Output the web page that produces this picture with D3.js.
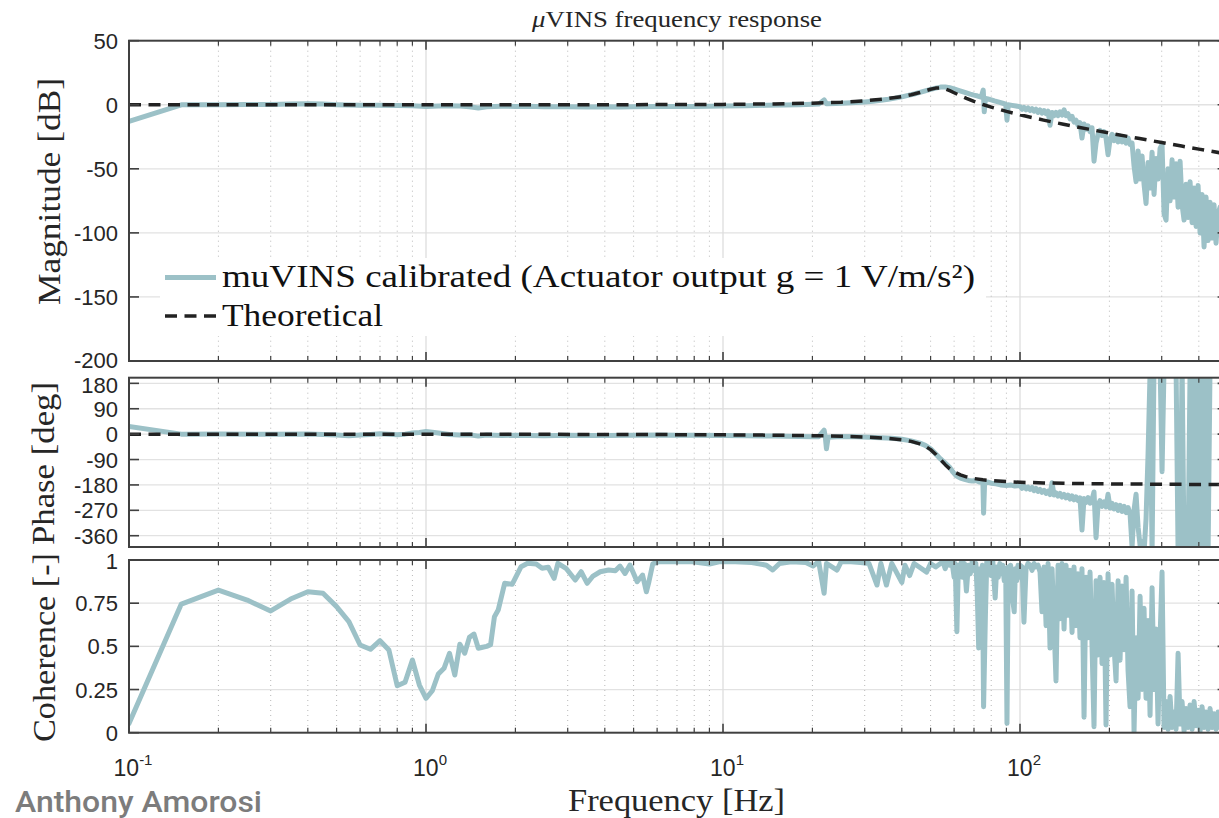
<!DOCTYPE html>
<html>
<head>
<meta charset="utf-8">
<script src="https://cdn.jsdelivr.net/npm/d3@7"></script>
<style>
  html, body { margin: 0; padding: 0; background: #fff; }
  svg { display: block; }
</style>
</head>
<body>
<svg id="chart" width="1219" height="818"></svg>
<script>
// ---------- measured response: low / mid band, irregular frequency steps ----------
const magLoHz = [0.1,0.15,0.2,0.25,0.3,0.35,0.4,0.45,0.5,0.55,0.6,0.7,0.8,0.9,1.0,1.1,1.2,1.3,1.4,1.5,
  1.6,1.8,2.0,2.2,2.5,3,3.5,4,4.5,5,6,7,8,9,10,12,14,16,18,20,
  21,21.9,22.3,24,26,28,30,32,34,36,38,40,42,44,46,48,50,52,54,56,
  58,60,62,64,66,68,70,72,74,75.2,75.8,76.5,78,80,82,85,88,89.5,90.4,91.3,94,97];
const magLoDb = [-13,0,0,0.2,0.3,0.5,0.8,0.5,0.1,-0.2,-0.3,-0.4,-0.6,-0.8,-1.4,-0.9,-0.7,-1.0,-1.6,-2.6,
  -1.6,-1.2,-1.3,-1.2,-1.5,-1.6,-1.7,-1.5,-1.7,-1.6,-1.4,-1.3,-1.3,-1.1,-1.0,-0.8,-0.4,-0.2,0.1,0.4,
  0.5,3.8,0.8,1.0,1.3,1.7,2.2,2.8,3.5,4.3,5.2,6.2,7.3,8.4,9.6,10.8,12.0,13.0,13.8,13.9,
  13.3,12.4,11.3,10.2,9.2,8.3,7.5,6.8,6.0,11.5,-5.5,5.0,4.5,3.8,3.0,2.0,1.0,0.5,-12,0.0,-0.5,-1.0];

const phaseLoHz = [0.1,0.15,0.2,0.3,0.4,0.45,0.5,0.55,0.6,0.65,0.7,0.75,0.8,0.85,0.9,0.95,1.0,1.05,1.1,1.2,
  1.3,1.4,1.5,1.6,1.7,1.8,2,2.5,3,3.5,4,5,6,7,8,10,12,15,18,20,
  21,21.9,22.1,22.3,22.6,25,28,31,34,37,40,43,46,48,50,52,54,56,58,59.5,
  61,63,65,67,69,71,73,75,75.4,76,78,80,83,86,90,93,96,98];
const phaseLoDeg = [27,0,0.5,-0.5,0.5,-1,-3,-6,-3,-1,1,0,-2,0,4,6,9,7,4,-1,
  -3,-2,-7,-3,-4,-5,-4,-6,-4,-5,-5,-4,-3,-4,-4,-5,-6,-7,-8,-9,
  -9,14,-10,-52,-11,-8,-9,-11,-13,-15,-18,-24,-32,-40,-52,-70,-88,-103,-118,-135,
  -148,-156,-160,-164,-166,-164,-170,-172,-280,-175,-170,-174,-176,-180,-182,-180,-184,-183];

const cohLoHz = [0.1,0.15,0.2,0.25,0.3,0.35,0.4,0.45,0.5,0.55,0.6,0.65,0.7,0.75,0.8,0.85,0.9,0.95,1.0,1.05,
  1.1,1.15,1.2,1.25,1.3,1.35,1.4,1.45,1.5,1.55,1.6,1.65,1.7,1.75,
  1.84,1.95,2.09,2.2,2.35,2.46,2.58,2.7,2.78,2.96,3.18,3.33,3.49,3.65,3.86,4.12,4.34,4.5,4.68,4.86,
  5.14,5.36,5.52,5.63,5.8,6.1,7.0,7.9,9.0,9.7,11,12.5,14.0,14.7,15.5,17,19,20.1,21,21.9,
  22.3,24.2,25,27,29,31,33,34,35.5,37,40,41,42.5,44,48.5,50,52,55,56,57,
  58,59,60,60.5,61.3,62,62.5,63.5,64,65,66,67,68,69,70,71,71.8,72.6,73.3,74,
  74.7,75.4,76.5,77.3,78,79,80,81,82.5,83.5,84.5,85.5,86.5,87.5,88.5,89.5,90.4,91.3,92,93,
  94,95.6,96.5,97.5,98.5,99.3];
const cohLoVal = [0.054,0.745,0.826,0.768,0.705,0.774,0.816,0.807,0.73,0.643,0.508,0.483,0.533,0.479,0.272,0.292,0.421,0.276,0.199,0.243,
  0.34,0.373,0.46,0.334,0.512,0.46,0.552,0.571,0.489,0.495,0.50,0.51,0.672,0.71,
  0.865,0.859,0.961,0.981,0.977,0.952,0.958,0.894,0.981,0.952,0.884,0.932,0.865,0.907,0.932,0.942,0.938,0.965,0.922,0.971,
  0.874,0.913,0.816,0.874,0.977,0.99,0.99,0.99,0.977,0.99,0.99,0.985,0.97,0.942,0.98,0.99,0.985,0.965,0.99,0.807,
  0.98,0.942,0.99,0.99,0.985,0.98,0.855,0.98,0.855,0.98,0.87,0.97,0.91,0.98,0.93,0.98,0.96,0.99,0.95,0.99,
  0.97,0.99,0.9,0.98,0.585,0.97,0.93,0.99,0.90,0.98,0.82,0.97,0.92,0.99,0.94,0.98,0.80,0.49,0.95,0.88,
  0.97,0.15,0.69,0.99,0.93,0.98,0.91,0.99,0.78,0.96,0.90,0.98,0.92,0.97,0.88,0.95,0.054,0.96,0.86,0.97,
  0.80,0.7,0.95,0.88,0.97,0.90];

// ---------- measured response: 100-500 Hz, shared frequency grid ----------
const hfHz = [100,101.6,103.1,104.8,106.4,108.1,109.8,111.5,113.2,115.0,
  116.8,118.6,120.5,122.4,124.3,126.2,128.2,130.2,132.2,134.3,
  136.4,138.5,140.7,142.9,145.1,147.4,149.7,152.0,154.4,156.8,
  159.2,161.7,164.3,166.8,169.4,172.1,174.8,177.5,180.3,183.1,
  186.0,188.9,191.8,194.8,197.9,201.0,204.1,207.3,210.6,213.9,
  217.2,220.6,224.1,227.6,231.1,234.7,238.4,242.1,245.9,249.8,
  253.7,257.6,261.6,265.7,269.9,274.1,278.4,282.7,287.1,291.6,
  296.2,300.8,305.5,310.3,315.1,320.1,325.1,330.2,335.3,340.6,
  345.9,351.3,356.8,362.4,368.0,373.8,379.7,385.6,391.6,397.7,
  403.9,410.2,416.6,423.1,429.7,436.4,443.2,450.1,457.1,464.3,
  471.6,479.0,486.5,494.1,500];
const magHfDb = [-1.5,-3.5,-2,-4,-2.5,-4.5,-3,-5,-3.5,-6,
  -4,-6.5,-4.5,-7,-5,-16,-6,-8.5,-6,-8.5,
  -5.5,-8,-4,-8.5,-7,-11,-9,-13.5,-12,-16,
  -14,-26,-15,-19,-16.5,-21,-18,-44,-30,-23,
  -20,-24,-21,-26,-39,-27,-23,-28,-24,-29,
  -24.5,-29,-25,-30,-26,-31,-30,-48,-60,-36,
  -58,-40,-62,-77,-45,-65,-37,-70,-42,-58,
  -34,-31,-85,-90,-50,-75,-43,-72,-46,-80,
  -44,-78,-90,-62,-88,-60,-92,-65,-95,-63,
  -100,-70,-111,-72,-106,-76,-104,-78,-108,-85,
  -80,-110,-75,-105,-90];
const phaseHfDeg = [-182,-192,-184,-194,-188,-196,-189,-200,-192,-203,
  -196,-206,-199,-210,-202,-214,-172,-216,-208,-220,
  -210,-223,-214,-226,-216,-230,-219,-233,-222,-236,
  -226,-340,-228,-242,-225,-245,-232,-205,-367,-250,
  -236,-256,-240,-258,-213,-262,-245,-265,-250,-270,
  -252,-274,-256,-278,-260,-282,-400,-268,-213,-330,
  -395,-380,-420,-300,-68,220,-420,260,240,270,
  250,-133,240,260,230,280,250,270,240,-420,
  -430,250,-420,-440,-430,230,-420,250,-430,240,
  -410,260,-430,240,-440,250,300,320,310,330,
  320,340,330,350,340];
const cohHfVal = [0.97,0.96,0.64,0.95,0.98,0.97,0.94,0.98,0.96,0.97,
  0.93,0.70,0.96,0.62,0.98,0.49,0.95,0.62,0.30,0.97,
  0.66,0.98,0.60,0.97,0.68,0.94,0.58,0.96,0.62,0.92,
  0.55,0.95,0.09,0.90,0.55,0.93,0.50,0.035,0.88,0.45,
  0.90,0.40,0.87,0.045,0.92,0.45,0.86,0.50,0.30,0.88,
  0.42,0.85,0.48,0.90,0.36,0.15,0.82,0.006,0.55,0.20,
  0.79,0.25,0.72,0.20,0.65,0.10,0.84,0.25,0.60,0.05,
  0.55,0.93,0.03,0.18,0.02,0.21,0.03,0.12,0.02,0.46,
  0.05,0.18,0.01,0.14,0.03,0.16,0.02,0.18,0.04,0.13,
  0.01,0.15,0.03,0.12,0.02,0.14,0.03,0.11,0.02,0.12,
  0.03,0.13,0.02,0.10,0.05];

// ---------- theoretical second-order response ----------
const thHz  = [0.1,1,5,10,15,20,25,30,35,40,43,46,48,50,52,54,56,58,60,63,66,70,75,80,90,100,120,140,170,200,250,300,350,400,500];
const thDb  = [0,0,0.07,0.3,0.68,1.24,2.02,3.07,4.48,6.38,7.84,9.57,10.85,12.09,12.99,13.15,12.38,11.0,9.4,7.07,5.0,2.64,0.19,-1.86,-5.18,-7.83,-11.97,-15.19,-19.02,-22.1,-26.21,-29.5,-32.26,-34.63,-38.5];
const thDeg = [0,-0.2,-1.2,-2.4,-3.8,-5.4,-7.4,-10,-13.8,-19.9,-25.6,-34.3,-43,-55,-71.1,-90,-108.3,-123,-133.8,-144.6,-151.4,-157.3,-161.8,-164.7,-168.3,-170.5,-172.9,-174.3,-175.6,-176.3,-177,-177.7,-178,-178.3,-178.6];

// ---------- axis ticks ----------
const magTicks = [50,0,-50,-100,-150,-200];
const phaseTicks = [180,90,0,-90,-180,-270,-360];
const cohTicks = [0,0.25,0.5,0.75,1];
const decadeTicks = [0.1,1,10,100];
const decadeLabels = [["10","-1"],["10","0"],["10","1"],["10","2"]];

// ---------- styling ----------
const TEAL = "#9cc1c7";
const DARK = "#222222";
const AXIS = "#404040";
const TICK_FONT = "'Liberation Sans', Arial, Helvetica, sans-serif";
const SERIF = "'Liberation Serif', 'Times New Roman', serif";

const svg = d3.select("#chart");
const X0 = 129, X1 = 1227.6;
const x = d3.scaleLog().domain([0.1, 500]).range([X0, X1]);

// per-panel label nudges keep neighbouring tick labels apart
const panels = [
  { key: "mag",   top: 40.7,  bottom: 361,   domain: [-200, 50], ticks: magTicks, nudge: d => (d === -200 ? -1.5 : 0) },
  { key: "phase", top: 377.7, bottom: 547,   domain: [-400, 200], ticks: phaseTicks, nudge: d => (d === 180 ? 1.5 : 0) },
  { key: "coh",   top: 560,   bottom: 732.7, domain: [0, 1], ticks: cohTicks, nudge: d => (d === 1 ? 1 : 0) }
];
panels.forEach(p => { p.y = d3.scaleLinear().domain(p.domain).range([p.bottom, p.top]); });

const minorTicks = [];
[0.1, 1, 10, 100].forEach(dec => { for (let m = 2; m <= 9; m++) { const v = dec * m; if (v <= 500) minorTicks.push(v); } });

const defs = svg.append("defs");

panels.forEach(p => {
  const g = svg.append("g").attr("class", "panel-" + p.key);
  defs.append("clipPath").attr("id", "clip-" + p.key)
    .append("rect").attr("x", X0).attr("y", p.top).attr("width", X1 - X0).attr("height", p.bottom - p.top);

  // horizontal grid
  g.append("g").selectAll("line").data(p.ticks.filter(t => t !== p.domain[0] && t !== p.domain[1]))
    .join("line")
    .attr("x1", X0).attr("x2", X1)
    .attr("y1", d => p.y(d)).attr("y2", d => p.y(d))
    .attr("stroke", "#e2e2e2").attr("stroke-width", 1.3);

  // vertical minor grid (dotted)
  g.append("g").selectAll("line").data(minorTicks)
    .join("line")
    .attr("x1", d => x(d)).attr("x2", d => x(d))
    .attr("y1", p.top).attr("y2", p.bottom)
    .attr("stroke", "#b8b8b8").attr("stroke-width", 1)
    .attr("stroke-dasharray", "1,4");

  // vertical decade grid
  g.append("g").selectAll("line").data([1, 10, 100])
    .join("line")
    .attr("x1", d => x(d)).attr("x2", d => x(d))
    .attr("y1", p.top).attr("y2", p.bottom)
    .attr("stroke", "#dddddd").attr("stroke-width", 1.3);

  p.g = g;
});

// ---------- data lines ----------
function series(hzLo, valLo, hzHi, valHi) {
  const pts = d3.zip(hzLo, valLo);
  if (hzHi) d3.zip(hzHi, valHi).forEach(d => pts.push(d));
  return pts;
}
const magPts = series(magLoHz, magLoDb, hfHz, magHfDb);
const phasePts = series(phaseLoHz, phaseLoDeg, hfHz, phaseHfDeg);
const cohPts = series(cohLoHz, cohLoVal, hfHz, cohHfVal);
const thMagPts = d3.zip(thHz, thDb);
const thPhasePts = d3.zip(thHz, thDeg);

function drawLine(p, pts, color, width, dash) {
  const line = d3.line().x(d => x(d[0])).y(d => p.y(d[1]));
  const path = p.g.append("path")
    .attr("clip-path", "url(#clip-" + p.key + ")")
    .attr("d", line(pts))
    .attr("fill", "none")
    .attr("stroke", color)
    .attr("stroke-width", width)
    .attr("stroke-linejoin", "round")
    .attr("stroke-linecap", dash ? "butt" : "round");
  if (dash) path.attr("stroke-dasharray", dash);
}
drawLine(panels[0], magPts, TEAL, 5);
drawLine(panels[0], thMagPts, DARK, 3.5, "12,7.5");
drawLine(panels[1], phasePts, TEAL, 5);
drawLine(panels[1], thPhasePts, DARK, 3.5, "12,7.5");
drawLine(panels[2], cohPts, TEAL, 5);

// ---------- frames and ticks ----------
panels.forEach(p => {
  const g = p.g.append("g");
  g.append("rect")
    .attr("x", X0).attr("y", p.top).attr("width", X1 - X0).attr("height", p.bottom - p.top)
    .attr("fill", "none").attr("stroke", AXIS).attr("stroke-width", 2);

  g.append("g").selectAll("line").data(p.ticks).join("line")
    .attr("x1", X0).attr("x2", X0 + 10)
    .attr("y1", d => p.y(d)).attr("y2", d => p.y(d))
    .attr("stroke", AXIS).attr("stroke-width", 1.6);
  g.append("g").selectAll("line").data(p.ticks).join("line")
    .attr("x1", X1).attr("x2", X1 - 10)
    .attr("y1", d => p.y(d)).attr("y2", d => p.y(d))
    .attr("stroke", AXIS).attr("stroke-width", 1.6);

  [[p.top, 1], [p.bottom, -1]].forEach(([yy, dir]) => {
    g.append("g").selectAll("line").data(decadeTicks).join("line")
      .attr("x1", d => x(d)).attr("x2", d => x(d))
      .attr("y1", yy).attr("y2", yy + dir * 9)
      .attr("stroke", AXIS).attr("stroke-width", 1.6);
    g.append("g").selectAll("line").data(minorTicks).join("line")
      .attr("x1", d => x(d)).attr("x2", d => x(d))
      .attr("y1", yy).attr("y2", yy + dir * 5)
      .attr("stroke", AXIS).attr("stroke-width", 1.2);
  });

  g.append("g").selectAll("text").data(p.ticks).join("text")
    .attr("x", 118).attr("y", d => p.y(d) + 8 + p.nudge(d))
    .attr("text-anchor", "end")
    .attr("font-family", TICK_FONT).attr("font-size", 22)
    .attr("fill", "#262626")
    .text(d => String(d));
});

// x tick labels (powers of ten)
const xl = svg.append("g").selectAll("text").data(d3.zip(decadeTicks, decadeLabels)).join("text")
  .attr("x", d => x(d[0]) + 4).attr("y", 776)
  .attr("text-anchor", "middle")
  .attr("font-family", TICK_FONT).attr("font-size", 23).attr("fill", "#262626");
xl.append("tspan").text(d => d[1][0]);
xl.append("tspan").attr("font-size", 15).attr("dy", -11).text(d => d[1][1]);

// ---------- titles and axis labels ----------
svg.append("text")
  .attr("x", 677).attr("y", 27).attr("text-anchor", "middle")
  .attr("font-family", SERIF).attr("font-size", 24).attr("fill", "#262626")
  .attr("textLength", 290).attr("lengthAdjust", "spacingAndGlyphs")
  .call(t => {
    t.append("tspan").attr("font-style", "italic").text("\u03bc");
    t.append("tspan").text("VINS frequency response");
  });

function vLabel(txt, cx, cy, len) {
  svg.append("text")
    .attr("transform", `translate(${cx},${cy}) rotate(-90)`)
    .attr("text-anchor", "middle")
    .attr("font-family", SERIF).attr("font-size", 32).attr("fill", "#262626")
    .attr("textLength", len).attr("lengthAdjust", "spacingAndGlyphs")
    .text(txt);
}
vLabel("Magnitude [dB]", 60, 191.5, 227);
vLabel("Phase [deg]", 54, 463.5, 163);
vLabel("Coherence [-]", 55, 647.5, 189);

svg.append("text")
  .attr("x", 676.5).attr("y", 811).attr("text-anchor", "middle")
  .attr("font-family", SERIF).attr("font-size", 31).attr("fill", "#262626")
  .attr("textLength", 217).attr("lengthAdjust", "spacingAndGlyphs")
  .text("Frequency [Hz]");

svg.append("text")
  .attr("x", 15).attr("y", 812)
  .attr("font-family", "Roboto, 'Noto Sans', sans-serif").attr("font-weight", 500)
  .attr("font-size", 29).attr("fill", "#7c7c7c")
  .attr("textLength", 247).attr("lengthAdjust", "spacingAndGlyphs")
  .text("Anthony Amorosi");

// ---------- legend ----------
const lg = svg.append("g");
lg.append("rect").attr("x", 160).attr("y", 258).attr("width", 826).attr("height", 78).attr("fill", "#fff");
lg.append("line").attr("x1", 165).attr("x2", 216).attr("y1", 277.5).attr("y2", 277.5)
  .attr("stroke", TEAL).attr("stroke-width", 5);
lg.append("line").attr("x1", 165).attr("x2", 216).attr("y1", 316).attr("y2", 316)
  .attr("stroke", DARK).attr("stroke-width", 3.5).attr("stroke-dasharray", "12,7.5");
lg.append("text").attr("x", 222).attr("y", 287)
  .attr("font-family", SERIF).attr("font-size", 32).attr("fill", "#111")
  .attr("textLength", 753).attr("lengthAdjust", "spacingAndGlyphs")
  .text("muVINS calibrated (Actuator output g = 1 V/m/s\u00b2)");
lg.append("text").attr("x", 222).attr("y", 326)
  .attr("font-family", SERIF).attr("font-size", 32).attr("fill", "#111")
  .attr("textLength", 161).attr("lengthAdjust", "spacingAndGlyphs")
  .text("Theoretical");
</script>
</body>
</html>
